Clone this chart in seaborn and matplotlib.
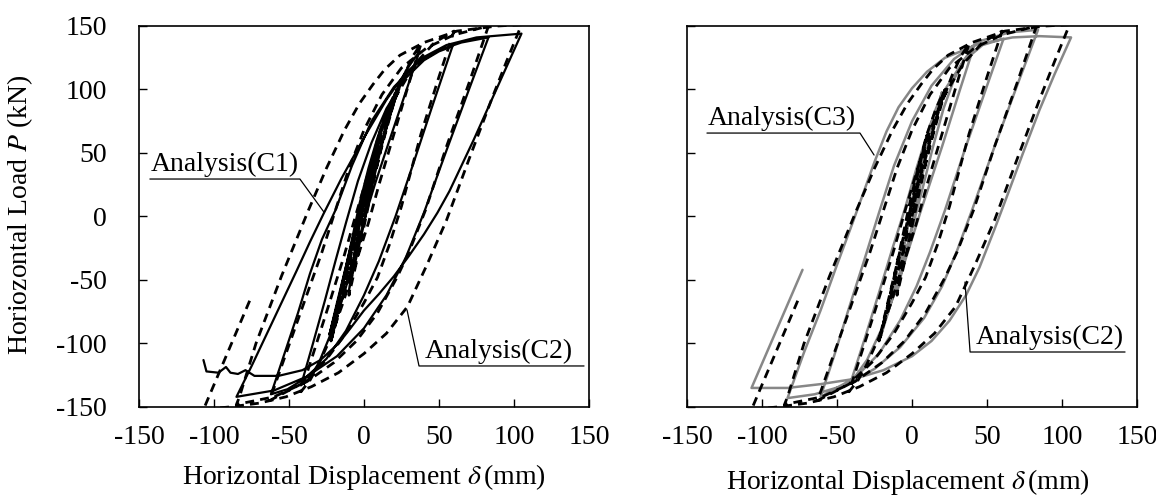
import pandas as pd
import matplotlib
matplotlib.use("Agg")
import matplotlib.pyplot as plt
import seaborn as sns

# (displacement mm, load kN), cycle by cycle

# Analysis(C1) - solid black, left panel
c1_pts = [
    (0, 0), (5, 30), (10, 60), (5, 38), (0, 12), (-5, -20), (-10, -58),
    (-5, -32), (0, -6), (5, 22), (11, 52), (17, 78), (22, 97),
    (15, 70), (8, 42), (1, 14), (-6, -15), (-12, -45), (-18, -72), (-23, -93),
    (-18, -70), (-13, -45), (-8, -18), (-3, 10), (3, 38), (9, 62), (15, 82), (21, 95),
    (14, 68), (7, 40), (0, 12), (-7, -18), (-13, -47), (-18, -72), (-23, -93),
    (-18, -68), (-13, -44), (-8, -20), (-4, 0), (4, 35), (12, 68), (20, 95), (28, 115), (37, 130),
    (27, 95), (17, 60), (8, 28), (2, 5), (-5, -25), (-13, -60), (-22, -92), (-30, -115), (-36, -127), (-42, -133),
    (-34, -100), (-26, -66), (-19, -35), (-12, -5), (-4, 28), (5, 58), (15, 85), (27, 108), (40, 123), (50, 130), (59, 134),
    (45, 85), (33, 42), (21, 0), (10, -35), (0, -62), (-12, -90), (-25, -112), (-40, -128), (-51, -136), (-62, -140),
    (-53, -108), (-44, -76), (-36, -45), (-28, -18), (-19, 5), (-8, 40), (5, 75), (20, 102), (35, 120), (50, 131), (65, 137), (83, 141),
    (70, 100), (55, 52), (40, 3), (28, -32), (15, -62), (0, -88), (-18, -110), (-38, -126), (-60, -137), (-85, -142),
    (-75, -118), (-65, -93), (-55, -68), (-45, -43), (-36, -20), (-27, 2), (-15, 30), (0, 62), (15, 92), (27, 112),
    (39, 125), (55, 135), (75, 141), (105, 144),
    (97, 123), (89, 102), (81, 81), (73, 60), (65, 40), (57, 20), (49, 3), (40, -14), (30, -31), (20, -47),
    (10, -61), (0, -74), (-9, -88), (-17, -100), (-29, -113), (-41, -121), (-57, -125.5), (-73, -125.5),
    (-79, -121), (-84, -124), (-89, -123), (-92, -118.5), (-97, -123), (-105, -122), (-107, -113),
]

# Analysis(C2) - dashed black, both panels
c2_pts = [
    (0, 0), (5, 32), (10, 64), (5, 40), (0, 12), (-5, -22), (-10, -62),
    (-5, -36), (0, -8), (5, 20), (11, 52), (17, 80), (22, 100),
    (15, 72), (8, 42), (1, 12), (-6, -20), (-12, -50), (-17, -75), (-22, -98),
    (-17, -74), (-12, -48), (-7, -20), (-2, 8), (4, 38), (10, 65), (16, 85), (21, 98),
    (14, 70), (7, 40), (0, 10), (-7, -22), (-13, -52), (-18, -77), (-22, -98),
    (-15, -68), (-8, -37), (-1, -5), (6, 28), (13, 60), (20, 90), (27, 112), (33, 127), (38, 136),
    (30, 105), (20, 65), (10, 25), (3, -5), (-5, -35), (-14, -68), (-22, -95), (-30, -116), (-36, -129), (-42, -138),
    (-33, -105), (-23, -68), (-13, -30), (-5, 3), (3, 35), (12, 68), (22, 96), (34, 120), (47, 137), (60, 146),
    (50, 110), (38, 65), (25, 8), (17, -22), (9, -48), (0, -68), (-12, -92), (-26, -114), (-42, -132), (-63, -145),
    (-52, -108), (-40, -68), (-28, -28), (-19, 5), (-10, 38), (0, 68), (12, 96), (25, 117), (42, 133), (60, 143), (83, 150),
    (70, 105), (55, 55), (41, 5), (30, -28), (22, -48), (9, -76), (-5, -98), (-20, -115), (-38, -130), (-60, -142), (-85, -148),
    (-83, -142), (-72, -100), (-55, -47), (-37, 5), (-25, 38), (-13, 68), (-3, 89), (6, 104), (14, 116), (24, 127),
    (40, 137), (62, 146), (89, 150), (105, 151),
    (95, 122), (85, 92), (70, 45), (55, -3), (42, -38), (29, -71), (15, -92), (0, -108), (-17, -123), (-35, -134),
    (-52, -142), (-70, -147), (-90, -150), (-107, -152),
    (-75, -63),
]

# Analysis(C3) - solid grey, right panel
c3_pts = [
    (0, 0), (5, 30), (10, 60), (5, 38), (0, 10), (-5, -22), (-10, -60),
    (-5, -34), (0, -7), (5, 22), (10, 50), (15, 76), (20, 98),
    (14, 72), (8, 45), (2, 17), (-4, -12), (-10, -42), (-16, -70), (-21, -95),
    (-16, -72), (-11, -47), (-6, -20), (-1, 8), (5, 38), (10, 62), (15, 82), (20, 97),
    (13, 68), (7, 40), (1, 12), (-5, -18), (-11, -48), (-16, -72), (-21, -95),
    (-14, -68), (-7, -40), (0, -10), (7, 22), (14, 55), (21, 85), (28, 108), (35, 124), (41, 133),
    (32, 100), (20, 55), (6, 5), (-2, -25), (-10, -55), (-20, -88), (-30, -113), (-41, -131),
    (-32, -98), (-22, -60), (-13, -25), (-5, 5), (3, 38), (12, 72), (22, 100), (34, 122), (47, 135), (61, 140),
    (50, 103), (35, 52), (22, 5), (12, -28), (3, -55), (-8, -82), (-22, -108), (-38, -127), (-61, -142),
    (-52, -110), (-42, -72), (-32, -35), (-22, 3), (-12, 40), (0, 75), (13, 103), (28, 124), (45, 138), (65, 145), (84, 147),
    (70, 103), (55, 55), (40, 5), (30, -27), (20, -55), (8, -80), (-8, -103), (-25, -120), (-45, -133), (-65, -140), (-83, -143),
    (-72, -107), (-61, -74), (-50, -38), (-39, -3), (-32, 20), (-25, 43), (-17, 67), (-9, 86), (0, 101), (10, 114),
    (22, 125), (45, 136), (67, 141), (85, 142), (106, 141),
    (95, 112), (85, 84), (74, 50), (63, 15), (55, -10), (45, -40), (36, -62), (25, -82), (13, -98), (0, -110),
    (-19, -121), (-39, -128), (-61, -132), (-83, -135), (-107, -135),
    (-73, -42),
]

x_ticks = [-150, -100, -50, 0, 50, 100, 150]
y_ticks = [-150, -100, -50, 0, 50, 100, 150]

sns.set_theme(style="white")
plt.rcParams["font.family"] = ["Liberation Serif", "DejaVu Serif"]
plt.rcParams["mathtext.fontset"] = "stix"
plt.rcParams["axes.unicode_minus"] = False

df1 = pd.DataFrame(c1_pts, columns=["disp", "load"])
df2 = pd.DataFrame(c2_pts, columns=["disp", "load"])
df3 = pd.DataFrame(c3_pts, columns=["disp", "load"])

fig = plt.figure(figsize=(11.56, 4.97), dpi=100)
ax1 = fig.add_axes([0.1202, 0.1811, 0.3893, 0.7666])
ax2 = fig.add_axes([0.5943, 0.1811, 0.3893, 0.7666])

dash = (0, (3.2, 2.2))
grey = "#878787"

# left: C1 vs C2
sns.lineplot(data=df2, x="disp", y="load", sort=False, estimator=None,
             color="black", lw=2.0, linestyle=dash, ax=ax1)
sns.lineplot(data=df1, x="disp", y="load", sort=False, estimator=None,
             color="black", lw=1.6, ax=ax1)

# right: C3 vs C2
sns.lineplot(data=df3, x="disp", y="load", sort=False, estimator=None,
             color=grey, lw=1.8, ax=ax2)
sns.lineplot(data=df2, x="disp", y="load", sort=False, estimator=None,
             color="black", lw=2.0, linestyle=dash, ax=ax2)

for ax in (ax1, ax2):
    ax.set_xlim(-150, 150)
    ax.set_ylim(-150, 150)
    ax.set_xticks(x_ticks)
    ax.set_yticks(y_ticks)
    ax.tick_params(direction="in", length=5.5, width=1, labelsize=20,
                   colors="black", left=True, bottom=True)
    ax.tick_params(axis="x", pad=13)
    ax.tick_params(axis="y", pad=23)
    for s in ax.spines.values():
        s.set_color("black")
        s.set_linewidth(1.2)
    ax.set_ylabel("")
    ax.set_xlabel("Horizontal Displacement $\\delta\\,$(mm)", fontsize=20, color="black")
    ax.xaxis.label.set_va("center")

ax1.xaxis.set_label_coords(0.5, -0.184)
ax2.xaxis.set_label_coords(0.49, -0.197)
ax2.tick_params(axis="y", labelleft=False)

ax1.set_ylabel("Horiozontal Load $P$ (kN)", fontsize=20, color="black")
ax1.yaxis.set_label_coords(-0.264, 0.504)
ax1.yaxis.label.set_va("center")

# callouts: label, underline and leader line
def callout(ax, text, x0, x1, y, tip):
    ax.text(x0 + 0.8, y + 6, text, fontsize=20, ha="left", va="baseline", color="black")
    ax.plot([x0, x1, tip[0]], [y, y, tip[1]], color="black", lw=0.9, clip_on=False)

def callout_r(ax, text, x0, x1, y, tip):
    ax.text(x0 + 3.5, y + 6, text, fontsize=20, ha="left", va="baseline", color="black")
    ax.plot([tip[0], x0, x1], [tip[1], y, y], color="black", lw=0.9, clip_on=False)

callout(ax1, "Analysis(C1)", -142.7, -42.7, 29.5, (-26.7, 3.5))
callout_r(ax1, "Analysis(C2)", 36.7, 146.7, -117.7, (28.7, -73.6))
callout(ax2, "Analysis(C3)", -136.7, -34.7, 65.7, (-25.3, 48.4))
callout_r(ax2, "Analysis(C2)", 38.7, 142, -106.7, (35.3, -51.6))

fig.savefig("out.png", dpi=100, facecolor="white")
